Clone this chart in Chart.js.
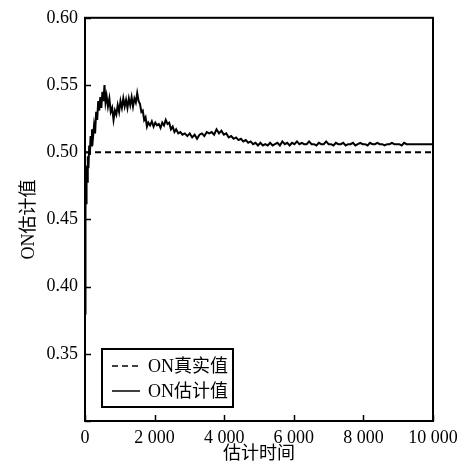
<!DOCTYPE html>
<html>
<head>
<meta charset="utf-8">
<script src="https://cdn.jsdelivr.net/npm/chart.js@4"></script>
<style>
  html, body { margin: 0; padding: 0; background: #fff; }
  #wrap { width: 465px; height: 465px; }
</style>
</head>
<body>
<div id="wrap"><canvas id="onChart"></canvas></div>
<script>
// ON estimate over time

const estTime = [
  0, 10, 20, 30, 45, 60, 80, 100, 120, 140, 160, 180, 200, 230, 260, 290, 320, 350, 380, 410,
  440, 470, 500, 530, 560, 590, 620, 660, 700, 740, 780, 820, 860, 900, 940, 980, 1020, 1060, 1100, 1140,
  1180, 1220, 1260, 1300, 1340, 1380, 1420, 1460, 1500, 1540, 1580, 1620, 1660, 1700, 1740, 1780, 1820, 1870, 1920, 1970,
  2020, 2070, 2120, 2170, 2220, 2270, 2320, 2370, 2420, 2470, 2520, 2570, 2620, 2680, 2740, 2800, 2870, 2940, 3010, 3080,
  3150, 3220, 3290, 3360, 3430, 3500, 3570, 3640, 3710, 3780, 3850, 3920, 3990, 4060, 4130, 4200, 4270, 4340, 4410, 4480,
  4550, 4620, 4690, 4760, 4830, 4900, 4970, 5040, 5110, 5180, 5250, 5320, 5390, 5460, 5530, 5600, 5670, 5740, 5810, 5880,
  5950, 6020, 6090, 6160, 6230, 6300, 6370, 6440, 6510, 6580, 6650, 6720, 6790, 6860, 6930, 7000, 7070, 7140, 7210, 7280,
  7350, 7420, 7490, 7560, 7630, 7700, 7770, 7840, 7910, 7980, 8050, 8120, 8190, 8260, 8330, 8400, 8470, 8540, 8610, 8680,
  8750, 8820, 8890, 8960, 9030, 9100, 9170, 9240, 9310, 9380, 9450, 9520, 9590, 9660, 9730, 9800, 9870, 9940, 10000,
];

const estValue = [
  0.380, 0.420, 0.475, 0.462, 0.490, 0.478, 0.497, 0.488, 0.505, 0.498, 0.512, 0.505, 0.517, 0.511, 0.520, 0.514, 0.530, 0.524, 0.538, 0.531,
  0.541, 0.533, 0.545, 0.538, 0.550, 0.537, 0.542, 0.534, 0.540, 0.530, 0.533, 0.524, 0.531, 0.528, 0.535, 0.530, 0.538, 0.533, 0.540, 0.534,
  0.539, 0.533, 0.540, 0.535, 0.541, 0.534, 0.540, 0.537, 0.544, 0.538, 0.536, 0.530, 0.531, 0.524, 0.526, 0.519, 0.522, 0.520, 0.523, 0.519,
  0.522, 0.520, 0.521, 0.518, 0.522, 0.520, 0.524, 0.521, 0.522, 0.517, 0.519, 0.515, 0.517, 0.514, 0.515, 0.513, 0.514, 0.512, 0.514, 0.511,
  0.513, 0.510, 0.513, 0.514, 0.512, 0.515, 0.514, 0.515, 0.513, 0.517, 0.514, 0.516, 0.513, 0.514, 0.511, 0.512, 0.510, 0.511, 0.509, 0.510,
  0.508, 0.509, 0.507, 0.508, 0.506, 0.507, 0.505, 0.507, 0.505, 0.506, 0.505, 0.507, 0.505, 0.506, 0.507, 0.505, 0.508, 0.506, 0.507, 0.505,
  0.507, 0.506, 0.508, 0.506, 0.507, 0.506, 0.506, 0.508, 0.506, 0.506, 0.505, 0.507, 0.506, 0.506, 0.508, 0.506, 0.506, 0.505, 0.507, 0.506,
  0.506, 0.507, 0.505, 0.506, 0.506, 0.507, 0.505, 0.506, 0.507, 0.506, 0.506, 0.505, 0.507, 0.506, 0.506, 0.507, 0.506, 0.506, 0.505, 0.506,
  0.506, 0.507, 0.506, 0.506, 0.506, 0.505, 0.507, 0.506, 0.506, 0.506, 0.506, 0.506, 0.506, 0.506, 0.506, 0.506, 0.506, 0.506, 0.506,
];

const trueTime = [0, 10000];
const trueValue = [0.50, 0.50];

const seriesNames = ["ON真实值", "ON估计值"];
const xTitle = "估计时间";
const yTitle = "ON估计值";

const serif = "'Liberation Serif', 'Noto Sans CJK SC', serif";

// inward tick marks + full frame + legend box inside the plot
const frameAndLegend = {
  id: "frameAndLegend",
  afterDraw(chart) {
    const ctx = chart.ctx;
    const a = chart.chartArea;
    const xs = chart.scales.x;
    const ys = chart.scales.y;
    ctx.save();
    ctx.strokeStyle = "#000";
    ctx.lineWidth = 2;
    ctx.strokeRect(a.left, a.top, a.right - a.left, a.bottom - a.top);
    ctx.lineWidth = 1.5;
    ctx.beginPath();
    xs.ticks.forEach(t => {
      const px = Math.round(xs.getPixelForValue(t.value)) + 0.5;
      ctx.moveTo(px, a.bottom);
      ctx.lineTo(px, a.bottom - 6);
    });
    ys.ticks.forEach(t => {
      const py = Math.round(ys.getPixelForValue(t.value)) + 0.5;
      ctx.moveTo(a.left, py);
      ctx.lineTo(a.left + 6, py);
    });
    ctx.stroke();

    // legend
    const bx = a.left + 17, by = a.bottom - 72, bw = 131, bh = 58;
    ctx.fillStyle = "#fff";
    ctx.fillRect(bx, by, bw, bh);
    ctx.lineWidth = 2;
    ctx.strokeRect(bx, by, bw, bh);
    ctx.font = "18px " + serif;
    ctx.fillStyle = "#000";
    ctx.textBaseline = "middle";
    const rows = [by + 17, by + 42];
    chart.data.datasets.forEach((ds, i) => {
      ctx.beginPath();
      ctx.lineWidth = 1.5;
      ctx.setLineDash(ds.borderDash || []);
      ctx.moveTo(bx + 10, rows[i]);
      ctx.lineTo(bx + 38, rows[i]);
      ctx.stroke();
      ctx.setLineDash([]);
      ctx.fillText(ds.label, bx + 46, rows[i] + 1);
    });
    ctx.restore();
  }
};

new Chart(document.getElementById("onChart"), {
  type: "scatter",
  data: {
    datasets: [
      {
        label: seriesNames[0],
        data: trueTime.map((t, i) => ({ x: t, y: trueValue[i] })),
        showLine: true,
        borderColor: "#000",
        borderWidth: 2,
        borderDash: [6, 4],
        pointRadius: 0,
      },
      {
        label: seriesNames[1],
        data: estTime.map((t, i) => ({ x: t, y: estValue[i] })),
        showLine: true,
        borderColor: "#000",
        borderWidth: 2,
        pointRadius: 0,
        tension: 0,
      },
    ],
  },
  options: {
    responsive: true,
    maintainAspectRatio: false,
    animation: false,
    layout: { padding: { top: 16, right: 32, left: 18, bottom: 0 } },
    plugins: {
      legend: { display: false },
      tooltip: { enabled: false },
    },
    scales: {
      x: {
        type: "linear",
        min: 0,
        max: 10000,
        grid: { display: false, drawTicks: false },
        border: { display: false },
        ticks: {
          stepSize: 2000,
          color: "#000",
          padding: 6,
          font: { family: serif, size: 18 },
          maxRotation: 0,
          callback: v => String(v).replace(/\B(?=(\d{3})+(?!\d))/g, " "),
        },
        title: {
          display: true,
          text: xTitle,
          color: "#000",
          padding: { top: 1, bottom: 0 },
          font: { family: serif, size: 18 },
        },
        afterFit: s => { s.height = 44; },
      },
      y: {
        min: 0.30,
        max: 0.60,
        grid: { display: false, drawTicks: false },
        border: { display: false },
        ticks: {
          stepSize: 0.05,
          color: "#000",
          padding: 7,
          font: { family: serif, size: 18 },
          callback: v => (v < 0.32 ? "" : v.toFixed(2)),
        },
        title: {
          display: true,
          text: yTitle,
          color: "#000",
          padding: { top: 0, bottom: 0 },
          font: { family: serif, size: 18 },
        },
        afterFit: s => { s.width = 67; },
      },
    },
  },
  plugins: [frameAndLegend],
});
</script>
</body>
</html>
